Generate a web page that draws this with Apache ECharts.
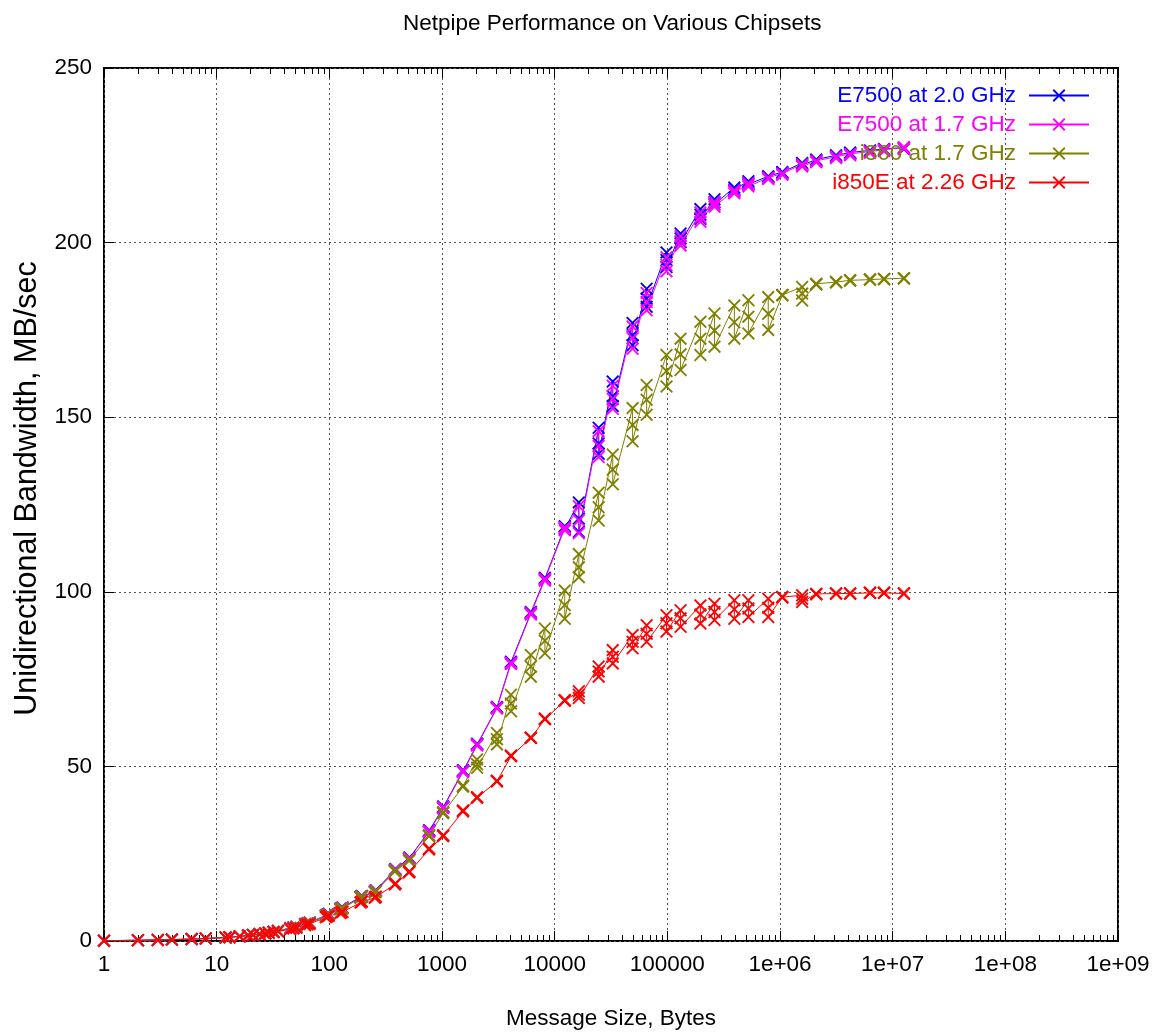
<!DOCTYPE html>
<html>
<head>
<meta charset="utf-8">
<title>Netpipe Performance on Various Chipsets</title>
<script src="https://cdn.jsdelivr.net/npm/echarts@6/dist/echarts.min.js"></script>
<style>
  html, body { margin: 0; padding: 0; background: #fff; }
  #chart { width: 1168px; height: 1035px; }
</style>
</head>
<body>
<div id="chart"></div>
<script>
// message sizes (bytes), netpipe perturbation -3 / 0 / +3
var sizes = [
  1, 2, 3, 4, 6, 8, 12, 13,
  16, 19, 21, 24, 27, 29, 32, 35,
  45, 48, 51, 61, 64, 67,
  93, 96, 99, 125, 128, 131,
  189, 192, 195, 253, 256, 259,
  381, 384, 387, 509, 512, 515,
  765, 768, 771, 1021, 1024, 1027,
  1533, 1536, 1539, 2045, 2048, 2051,
  3069, 3072, 3075, 4093, 4096, 4099,
  6141, 6144, 6147, 8189, 8192, 8195,
  12285, 12288, 12291, 16381, 16384, 16387,
  24573, 24576, 24579, 32765, 32768, 32771,
  49149, 49152, 49155, 65533, 65536, 65539,
  98301, 98304, 98307, 131069, 131072, 131075,
  196605, 196608, 196611, 262141, 262144, 262147,
  393213, 393216, 393219, 524285, 524288, 524291,
  786429, 786432, 786435, 1048573, 1048576, 1048579,
  1572861, 1572864, 1572867, 2097149, 2097152, 2097155,
  3145725, 3145728, 3145731, 4194301, 4194304, 4194307,
  6291453, 6291456, 6291459, 8388605, 8388608, 8388611,
  12582909, 12582912, 12582915
];

var e7500_20 = [
  0.1, 0.2, 0.3, 0.4, 0.55, 0.7, 1.0, 1.1,
  1.35, 1.6, 1.75, 2.0, 2.25, 2.4, 2.65, 2.9,
  3.7, 3.9, 4.1, 4.9, 5.1, 5.3,
  7.3, 7.6, 7.8, 9.2, 9.4, 9.6,
  12.6, 12.8, 12.9, 14.2, 14.4, 14.5,
  20.3, 20.5, 20.6, 23.6, 23.8, 23.9,
  31.4, 31.6, 31.7, 38.2, 38.4, 38.5,
  48.6, 48.8, 48.9, 56.2, 56.4, 56.5,
  66.8, 67.0, 66.9, 79.8, 80.0, 79.6,
  94.0, 94.2, 93.8, 103.8, 104.0, 103.5,
  118.6, 118.8, 118.0, 125.6, 121.0, 117.2,
  147.0, 142.5, 139.5, 160.2, 156.0, 153.2,
  177.0, 173.5, 170.6, 186.8, 184.0, 181.6,
  197.2, 195.0, 193.0, 202.6, 201.2, 200.1,
  209.6, 208.0, 206.8, 212.4, 211.6, 211.0,
  215.8, 215.2, 214.8, 217.6, 217.1, 216.7,
  219.0, 218.8, 218.6, 220.2, 220.0, 219.8,
  222.8, 222.5, 222.2, 223.8, 223.6, 223.4,
  225.0, 224.8, 224.6, 225.8, 225.6, 225.4,
  226.4, 226.2, 226.0, 226.8, 226.6, 226.4,
  227.2, 227.0, 226.8
];

var e7500_17 = [
  0.1, 0.2, 0.3, 0.4, 0.55, 0.7, 1.0, 1.1,
  1.35, 1.6, 1.75, 2.0, 2.2, 2.4, 2.6, 2.9,
  3.7, 3.9, 4.1, 4.9, 5.1, 5.3,
  7.3, 7.5, 7.7, 9.2, 9.4, 9.5,
  12.5, 12.7, 12.8, 14.1, 14.3, 14.4,
  20.2, 20.4, 20.5, 23.5, 23.7, 23.8,
  31.2, 31.4, 31.5, 38.0, 38.2, 38.3,
  48.4, 48.6, 48.7, 56.0, 56.2, 56.3,
  66.6, 66.8, 66.7, 79.5, 79.7, 79.3,
  93.7, 93.9, 93.5, 103.5, 103.7, 103.2,
  118.2, 118.4, 117.6, 124.5, 120.5, 116.8,
  146.0, 141.8, 138.6, 159.0, 155.2, 152.4,
  176.0, 172.6, 169.6, 185.6, 183.0, 180.6,
  195.8, 193.6, 191.8, 201.8, 200.4, 199.2,
  208.6, 207.2, 206.0, 211.6, 210.9, 210.3,
  215.0, 214.5, 214.1, 217.0, 216.5, 216.1,
  218.6, 218.4, 218.2, 219.8, 219.6, 219.4,
  222.4, 222.1, 221.8, 223.4, 223.2, 223.0,
  224.6, 224.4, 224.2, 225.4, 225.2, 225.0,
  226.1, 225.9, 225.7, 226.6, 226.4, 226.2,
  227.3, 227.1, 226.9
];

var i860_17 = [
  0.1, 0.2, 0.3, 0.4, 0.55, 0.7, 1.0, 1.1,
  1.35, 1.6, 1.75, 2.0, 2.2, 2.4, 2.6, 2.9,
  3.6, 3.8, 4.0, 4.8, 5.0, 5.2,
  7.2, 7.4, 7.6, 9.0, 9.2, 9.3,
  12.4, 12.6, 12.7, 13.9, 14.1, 14.2,
  19.9, 20.1, 20.2, 23.0, 23.2, 23.3,
  30.0, 30.2, 30.3, 36.6, 36.8, 36.9,
  44.2, 44.4, 44.5, 52.0, 50.6, 49.6,
  59.6, 57.8, 56.3, 70.5, 68.0, 65.8,
  81.9, 78.6, 75.7, 89.5, 86.0, 82.4,
  100.4, 96.2, 92.3, 110.8, 107.0, 104.2,
  128.4, 124.2, 120.4, 139.3, 135.0, 130.8,
  152.6, 147.8, 143.1, 159.2, 155.0, 150.7,
  167.8, 163.2, 158.8, 172.5, 168.0, 163.5,
  177.3, 172.5, 167.8, 179.7, 174.8, 170.2,
  182.0, 177.2, 172.5, 183.5, 178.8, 174.0,
  184.4, 179.6, 175.0, 185.0, 185.0, 184.9,
  187.3, 185.4, 183.4, 188.2, 188.1, 188.0,
  188.7, 188.7, 188.6, 189.2, 189.2, 189.1,
  189.4, 189.4, 189.4, 189.6, 189.6, 189.5,
  189.8, 189.8, 189.7
];

var i850e_226 = [
  0.1, 0.2, 0.3, 0.4, 0.55, 0.7, 1.0, 1.05,
  1.3, 1.55, 1.7, 1.9, 2.1, 2.3, 2.5, 2.7,
  3.4, 3.6, 3.8, 4.5, 4.7, 4.9,
  6.8, 7.0, 7.2, 8.0, 8.2, 8.3,
  11.0, 11.2, 11.3, 12.4, 12.6, 12.7,
  16.2, 16.4, 16.5, 19.6, 19.8, 19.9,
  26.2, 26.4, 26.5, 30.0, 30.2, 30.3,
  37.1, 37.3, 37.4, 41.0, 41.1, 41.2,
  45.7, 45.8, 45.9, 52.9, 53.0, 53.1,
  58.1, 58.2, 58.3, 63.5, 63.6, 63.7,
  68.8, 68.9, 69.0, 71.5, 70.5, 69.6,
  78.6, 77.2, 75.7, 83.3, 81.4, 79.5,
  87.6, 85.7, 83.8, 90.4, 88.0, 85.7,
  93.3, 91.0, 88.6, 94.7, 92.4, 90.0,
  96.1, 93.5, 90.9, 96.6, 94.2, 91.9,
  97.6, 95.0, 92.3, 97.6, 95.2, 92.8,
  98.0, 95.4, 92.8, 98.5, 98.5, 98.4,
  99.0, 98.0, 97.1, 99.4, 99.4, 99.3,
  99.5, 99.5, 99.5, 99.5, 99.5, 99.5,
  99.7, 99.7, 99.7, 99.7, 99.7, 99.7,
  99.5, 99.5, 99.5
];

var names = ['E7500 at 2.0 GHz', 'E7500 at 1.7 GHz', 'i860 at 1.7 GHz', 'i850E at 2.26 GHz'];
var colors = ['#0000ff', '#ff00ff', '#808000', '#ff0000'];
var values = [e7500_20, e7500_17, i860_17, i850e_226];

var FONT = "'Liberation Sans', Arial, sans-serif";
var FS = 22.5;
// gnuplot style "x" point
var CROSS = 'path://M0,1L1,0L10,9L9,10Z M9,0L10,1L1,10L0,9Z';

// minor ticks at 2..9 of every decade
var minorTicks = [];
for (var d = 0; d < 9; d++) {
  for (var m = 2; m <= 9; m++) minorTicks.push(m * Math.pow(10, d));
}

function xLabel(v) {
  var p = Math.round(Math.log(v) / Math.LN10);
  if (p < 6) return String(Math.pow(10, p));
  return '1e+0' + p;
}

function xAxisBase(pos) {
  return {
    type: 'log', logBase: 10, min: 1, max: 1e9, splitNumber: 9,
    position: pos, offset: 0,
    axisLine: { show: false },
    axisLabel: { show: false },
    splitLine: { show: false },
    axisTick: { show: true, inside: true, length: 10, lineStyle: { color: '#000', width: 1 } }
  };
}

var xMain = xAxisBase('bottom');
xMain.name = 'Message Size, Bytes';
xMain.nameLocation = 'middle';
xMain.nameGap = 66;
xMain.nameTextStyle = { fontSize: FS, color: '#000', fontFamily: FONT };
xMain.axisLabel = { show: true, formatter: xLabel, fontSize: FS, color: '#000', fontFamily: FONT, margin: 12 };
xMain.splitLine = { show: true, lineStyle: { color: '#555', type: [2, 3], width: 1 } };

var xMinorBottom = xAxisBase('bottom');
xMinorBottom.axisTick = { show: true, inside: true, length: 6, customValues: minorTicks, lineStyle: { color: '#000', width: 1 } };
var xTop = xAxisBase('top');
var xMinorTop = xAxisBase('top');
xMinorTop.axisTick = { show: true, inside: true, length: 6, customValues: minorTicks, lineStyle: { color: '#000', width: 1 } };

var series = names.map(function (n, i) {
  return {
    name: n,
    type: 'line',
    xAxisIndex: 0,
    yAxisIndex: 0,
    data: sizes.map(function (s, j) { return [s, values[i][j]]; }),
    symbol: CROSS,
    symbolSize: 13,
    showAllSymbol: true,
    color: colors[i],
    lineStyle: { width: 1, color: colors[i] },
    itemStyle: { color: colors[i] },
    emphasis: { disabled: true }
  };
});

var chart = echarts.init(document.getElementById('chart'), null, { renderer: 'canvas' });
chart.setOption({
  animation: false,
  backgroundColor: '#fff',
  title: {
    text: 'Netpipe Performance on Various Chipsets',
    left: 398, top: 7,
    textStyle: { fontSize: FS, fontWeight: 'normal', color: '#000', fontFamily: FONT }
  },
  legend: {
    orient: 'vertical',
    right: 78, top: 84, padding: 0,
    align: 'right',
    itemWidth: 60, itemHeight: 16, itemGap: 6,
    textStyle: { fontSize: FS, fontFamily: FONT, lineHeight: 23, padding: [0, 8, 0, 0] },
    data: names.map(function (n, i) { return { name: n, textStyle: { color: colors[i] } }; })
  },
  grid: {
    left: 104, right: 50, top: 68, bottom: 89,
    show: true, borderColor: '#000', borderWidth: 2, backgroundColor: 'transparent'
  },
  xAxis: [xMain, xMinorBottom, xTop, xMinorTop],
  yAxis: [{
    type: 'value', min: 0, max: 250, interval: 50, position: 'left',
    name: 'Unidirectional Bandwidth, MB/sec',
    nameLocation: 'middle', nameGap: 60,
    nameTextStyle: { fontSize: 30.5, color: '#000', fontFamily: FONT, padding: [0, 0, 0, 32] },
    axisLine: { show: false },
    axisTick: { show: true, inside: true, length: 10, lineStyle: { color: '#000', width: 1 } },
    axisLabel: { fontSize: FS, color: '#000', fontFamily: FONT, margin: 12 },
    splitLine: { show: true, lineStyle: { color: '#555', type: [2, 3], width: 1 } }
  }, {
    type: 'value', min: 0, max: 250, interval: 50, position: 'right',
    axisLine: { show: false },
    axisTick: { show: true, inside: true, length: 10, lineStyle: { color: '#000', width: 1 } },
    axisLabel: { show: false },
    splitLine: { show: false }
  }],
  series: series
});
</script>
</body>
</html>
